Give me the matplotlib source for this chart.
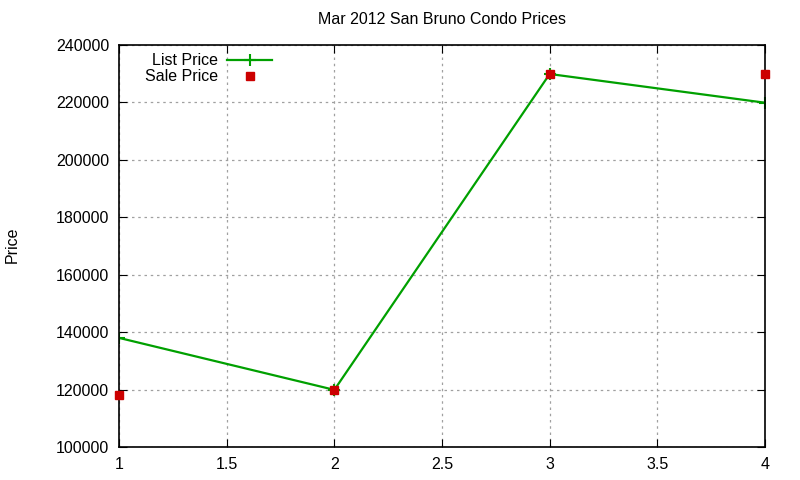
import matplotlib
matplotlib.use("Agg")
import matplotlib.pyplot as plt

plt.rcParams['font.family'] = ['Liberation Sans', 'DejaVu Sans']

# data
x = [1, 2, 3, 4]
list_price = [138000, 119900, 229900, 219900]
sale_price = [118000, 120000, 230000, 230000]

fs = 11.5

fig = plt.figure(figsize=(8, 4.8), dpi=100)
ax = fig.add_axes([119/800, 1-447/480, (765-119)/800, (447-45)/480])

ax.plot(x, list_price, color='#00a000', lw=1.6, marker='+', ms=9, mew=1.5,
        label='List Price')
ax.plot(x, sale_price, ls='none', color='#cc0000', marker='s', ms=6,
        label='Sale Price', clip_on=False, zorder=5)

ax.set_xlim(1, 4)
ax.set_ylim(100000, 240000)
ax.set_xticks([1, 1.5, 2, 2.5, 3, 3.5, 4])
ax.set_xticklabels(['1', '1.5', '2', '2.5', '3', '3.5', '4'])
ax.set_yticks(range(100000, 240001, 20000))
ax.grid(True, color='#a0a0a0', ls=(0, (2, 3)), lw=0.9)
ax.tick_params(direction='in', top=True, right=True, labelsize=fs, length=6, pad=7)
for s in ax.spines.values():
    s.set_linewidth(1.2)

fig.text(12/800, 1-245/480, 'Price', rotation=90, fontsize=fs,
         ha='center', va='center')
ax.set_title('Mar 2012 San Bruno Condo Prices', fontsize=fs, pad=15)

leg = ax.legend(loc='upper left', bbox_to_anchor=(0.03, 0.995), markerfirst=False,
                frameon=False, fontsize=fs, handlelength=2.8, borderaxespad=0,
                labelspacing=0.05, handletextpad=0.6)
for t in leg.get_texts():
    t.set_ha('right')
leg._legend_box.align = 'right'

fig.savefig('out.png', dpi=100)
